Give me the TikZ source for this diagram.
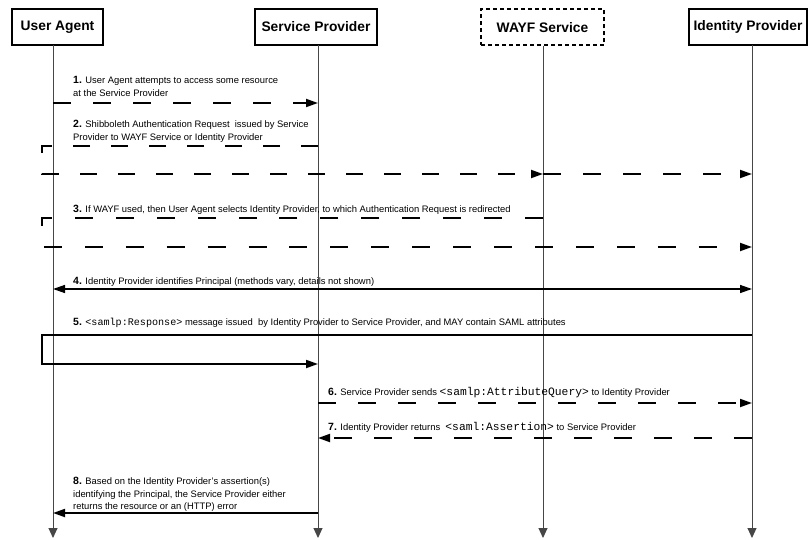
\documentclass[tikz,border=0pt]{standalone}
\usepackage{fontspec}
\setmainfont{Liberation Sans}
\setmonofont{Liberation Mono}
\usepackage{tikz}
\usetikzlibrary{arrows.meta}
\usetikzlibrary{positioning}

\newcommand{\stepno}[1]{{\fontsize{10.5}{12}\selectfont\bfseries #1}}
\newcommand{\samltag}[2][10.1]{{\ttfamily\fontsize{#1}{12}\selectfont #2}}

\tikzset{
    tip/.style={-{Triangle[length=12pt,width=8pt]}},
    lifeline/.style={draw=gray!55!black, line width=1pt, -{Triangle[length=10pt,width=9pt]}},
    msg/.style={draw=black, line width=1.8pt, line join=miter, tip},
    async/.style={msg, dash pattern=on 18pt off 22pt},
    msgtext/.style={anchor=west, inner sep=0pt, align=left, font=\fontsize{9.4}{12.5}\selectfont}
}

\begin{document}
\begin{tikzpicture}[x=1pt, y=-1pt]
            \useasboundingbox (0,0) rectangle (808,540);

            \begin{scope}[every node/.style={draw, line width=2pt, minimum height=36pt, inner sep=0pt, font=\fontsize{13.8}{16}\selectfont\bfseries}]
                \node[minimum width=91pt] (UA) at (57.5,27) {User Agent};
                \node[minimum width=122pt] (SP) at (316,27) {Service Provider};
                \node[minimum width=123pt, dash pattern=on 4pt off 3pt] (WAYF) at (542.5,27.5) {WAYF Service};
                \node[minimum width=118pt] (IdP) at (748,27) {Identity Provider};
            \end{scope}

            % lifelines
            \coordinate (ua) at (53,45);
            \coordinate (sp) at (318,45);
            \coordinate (wayf) at (543,46);
            \coordinate (idp) at (752,45);
            \coordinate (bottom) at (0,538);
            \coordinate (bend) at (42,0);

            \draw[lifeline] (ua) -- (ua |- bottom);
            \draw[lifeline] (sp) -- (sp |- bottom);
            \draw[lifeline] (wayf) -- (wayf |- bottom);
            \draw[lifeline] (idp) -- (idp |- bottom);

            % message rows
            \coordinate (r1) at (0,103);
            \coordinate (r2a) at (0,146);
            \coordinate (r2b) at (0,174);
            \coordinate (r3a) at (0,218);
            \coordinate (r3b) at (0,247);
            \coordinate (r4) at (0,289);
            \coordinate (r5a) at (0,335);
            \coordinate (r5b) at (0,364);
            \coordinate (r6) at (0,403);
            \coordinate (r7) at (0,438);
            \coordinate (r8) at (0,513);

            \draw[async] (ua |- r1) -- (sp |- r1);
            \draw[async, dash pattern=on 17pt off 21pt] (sp |- r2a) -- (bend |- r2a) -- (bend |- r2b) -- (wayf |- r2b);
            \draw[async] (wayf |- r2b) -- (idp |- r2b);
            \draw[async, dash pattern=on 18pt off 22.92pt] (wayf |- r3a) -- (bend |- r3a) -- (bend |- r3b) -- (idp |- r3b);
            \draw[msg, line width=1.4pt, {Triangle[length=12pt,width=8pt]}-{Triangle[length=12pt,width=8pt]}] (ua |- r4) -- (idp |- r4);
            \draw[msg] (idp |- r5a) -- (bend |- r5a) -- (bend |- r5b) -- (sp |- r5b);
            \draw[async] (sp |- r6) -- (idp |- r6);
            \draw[async] (idp |- r7) -- (sp |- r7);
            \draw[msg] (sp |- r8) -- (ua |- r8);

            \begin{scope}[every node/.style={msgtext}]
                \node (t1) at (73,86.5) {\stepno{1.} User Agent attempts to access some resource\\at the Service Provider};
                \node (t2) at (73,131.5) {\stepno{2.} Shibboleth Authentication Request\ \ issued by Service\\Provider to WAYF Service or Identity Provider};
                \node (t3) at (73,210) {\stepno{3.} If WAYF used, then User Agent selects Identity Provider, to which Authentication Request is redirected};
                \node (t4) at (73,281.5) {\stepno{4.} Identity Provider identifies Principal (methods vary, details not shown)};
                \node (t5) at (73,323) {\stepno{5.} \samltag{<samlp:Response>} message issued\ \ by Identity Provider to Service Provider, and MAY contain SAML attributes};
                \node (t6) at (328,393) {\stepno{6.} Service Provider sends \samltag[11.3]{<samlp:AttributeQuery>} to Identity Provider};
                \node (t7) at (328,427) {\stepno{7.} Identity Provider returns\ \ \samltag[11.3]{<saml:Assertion>} to Service Provider};
                \node (t8) at (73,494.5) {\stepno{8.} Based on the Identity Provider's assertion(s)\\identifying the Principal, the Service Provider either\\returns the resource or an (HTTP) error};
            \end{scope}
        \end{tikzpicture}
\end{document}
